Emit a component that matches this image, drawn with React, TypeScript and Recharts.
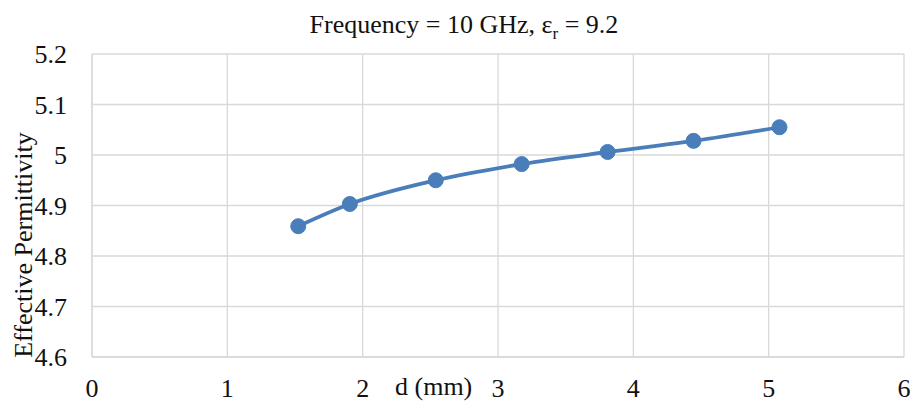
import React from 'react';
import {
  LineChart,
  Line,
  XAxis,
  YAxis,
  CartesianGrid,
} from 'recharts';

const thickness = [1.524, 1.905, 2.54, 3.175, 3.81, 4.445, 5.08];
const permittivity = [4.859, 4.903, 4.95, 4.982, 5.006, 5.028, 5.055];
const xTicks = [0, 1, 2, 3, 4, 5, 6];
const yTicks = [4.6, 4.7, 4.8, 4.9, 5.0, 5.1, 5.2];

const data = thickness.map((d, i) => ({ d, eps: permittivity[i] }));

const font = '"Liberation Serif", "Times New Roman", serif';
const textStyle = { fontFamily: font, fontSize: 26, fill: '#111' };

const fmt = (v: number) => String(+v.toFixed(1));

const XTick = (props: any) => {
  const { x, y, payload } = props;
  return (
    <text x={x} y={y + 38} textAnchor="middle" style={textStyle}>
      {fmt(payload.value)}
    </text>
  );
};

const YTick = (props: any) => {
  const { x, y, payload } = props;
  return (
    <text x={x - 23} y={y + 9} textAnchor="end" style={textStyle}>
      {fmt(payload.value)}
    </text>
  );
};

export default function App() {
  return (
    <div style={{ position: 'absolute', left: 0, top: 0, width: 914, height: 403, background: '#fff' }}>
      <LineChart
        width={914}
        height={403}
        data={data}
        margin={{ top: 54, right: 10, bottom: 0, left: 0 }}
      >
        <CartesianGrid stroke="#d9d9d9" strokeWidth={1.3} />
        <XAxis
          dataKey="d"
          type="number"
          domain={[0, 6]}
          ticks={xTicks}
          axisLine={{ stroke: '#d9d9d9', strokeWidth: 1.3 }}
          tickLine={false}
          tickSize={0}
          height={46}
          tick={<XTick />}
        />
        <YAxis
          type="number"
          domain={[4.6, 5.2]}
          ticks={yTicks}
          axisLine={{ stroke: '#d9d9d9', strokeWidth: 1.3 }}
          tickLine={false}
          tickSize={0}
          width={92}
          tick={<YTick />}
        />
        <Line
          dataKey="eps"
          type="monotone"
          stroke="#4a7ebb"
          strokeWidth={3.75}
          dot={{ r: 7.5, fill: '#4a7ebb', stroke: '#4a7ebb', strokeWidth: 1 }}
          isAnimationActive={false}
        />
      </LineChart>
      <svg width={914} height={403} style={{ position: 'absolute', left: 0, top: 0, pointerEvents: 'none' }}>
        <text x={464} y={33} textAnchor="middle" style={textStyle}>
          Frequency = 10 GHz, ε<tspan fontSize={17} dy={6}>r</tspan>
          <tspan dy={-6}> = 9.2</tspan>
        </text>
        <text
          x={0}
          y={0}
          transform="translate(32, 245) rotate(-90)"
          textAnchor="middle"
          style={textStyle}
        >
          Effective Permittivity
        </text>
        <text x={395} y={395} style={textStyle}>
          d (mm)
        </text>
      </svg>
    </div>
  );
}
